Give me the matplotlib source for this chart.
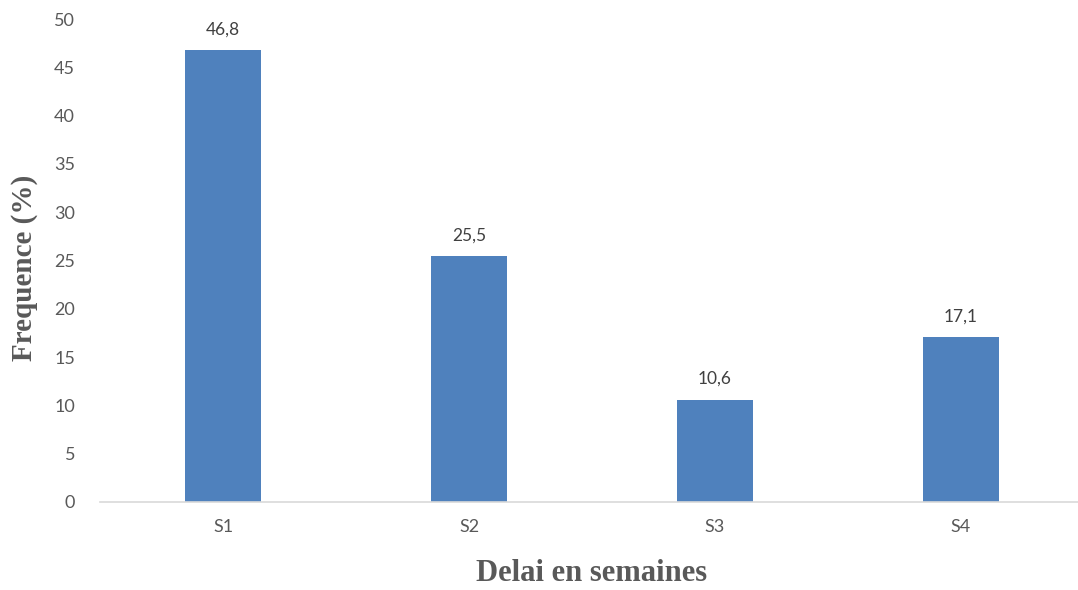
import matplotlib.pyplot as plt

categories = ['S1', 'S2', 'S3', 'S4']
values = [46.8, 25.5, 10.6, 17.1]
value_labels = ['46,8', '25,5', '10,6', '17,1']
yticks = [0, 5, 10, 15, 20, 25, 30, 35, 40, 45, 50]

fig = plt.figure(figsize=(10.78, 5.90), dpi=100)
ax = fig.add_axes([100 / 1078, 88 / 590, 984 / 1078, 483 / 590])

x = range(len(categories))
bars = ax.bar(x, values, width=0.31, color='#4f81bd', zorder=2)

for b, lab in zip(bars, value_labels):
    ax.annotate(lab, (b.get_x() + b.get_width() / 2, b.get_height()),
                xytext=(0, 9), textcoords='offset points',
                ha='center', va='bottom', fontsize=12.5,
                family='Lato', color='#404040')

ax.set_xlim(-0.5, 3.5)
ax.set_ylim(0, 50)
ax.set_xticks(list(x))
ax.set_xticklabels(categories)
ax.set_yticks(yticks)
ax.set_yticklabels([str(t) for t in yticks])

for s in ['top', 'right', 'left']:
    ax.spines[s].set_visible(False)
ax.spines['bottom'].set_color('#d9d9d9')
ax.spines['bottom'].set_linewidth(1.2)
ax.tick_params(axis='both', length=0, labelsize=13, labelcolor='#595959')
ax.tick_params(axis='y', pad=18)
ax.tick_params(axis='x', pad=12)
for t in ax.get_xticklabels() + ax.get_yticklabels():
    t.set_family('Lato')

ax.set_ylabel('Frequence (%)', family='Liberation Serif', fontweight='bold',
              fontsize=21, color='#595959')
ax.yaxis.set_label_coords(-62 / 984, (502 - 268) / 483)
ax.set_xlabel('Delai en semaines', family='Liberation Serif', fontweight='bold',
              fontsize=22, color='#595959')
ax.xaxis.set_label_coords((592 - 100) / 984, (502 - 559) / 483)

fig.savefig('out.png', dpi=100)
